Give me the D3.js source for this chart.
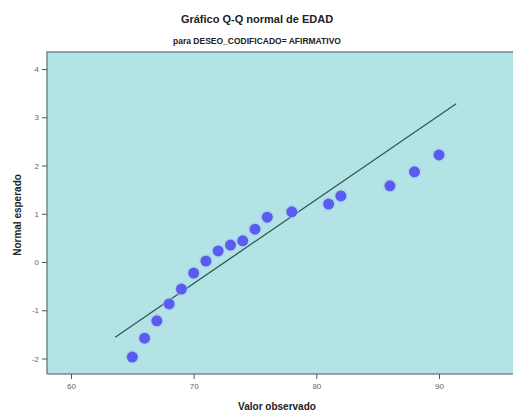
<!DOCTYPE html>
<html><head><meta charset="utf-8">
<script src="https://cdn.jsdelivr.net/npm/d3@7"></script>
<style>body{margin:0;background:#fff}svg{display:block}text{font-family:"Liberation Sans",Arial,sans-serif}</style>
</head><body>
<script>
const observed = [65,66,67,68,69,70,71,72,73,74,75,76,78,81,82,86,88,90];
const expected = [-1.97,-1.58,-1.22,-0.87,-0.56,-0.23,0.02,0.23,0.35,0.44,0.68,0.93,1.04,1.20,1.37,1.58,1.87,2.22];
const lineX = [63.6, 91.4];
const lineY = [-1.56, 3.28];
const xTicks = [60,70,80,90];
const yTicks = [-2,-1,0,1,2,3,4];

const W=513,H=413;
const svg=d3.select("body").append("svg").attr("width",W).attr("height",H);
const L=47,T=52,R=513,B=374;
const x=d3.scaleLinear().domain([60,90]).range([71,439]);
const y=d3.scaleLinear().domain([0,4]).range([262,69]);

svg.append("rect").attr("x",L).attr("y",T).attr("width",R-L).attr("height",B-T).attr("fill","#b3e3e5");
svg.append("path").attr("d",`M${L},${B}V${T}H${R}`).attr("fill","none").attr("stroke","#6f8a86").attr("stroke-width",1.5);
svg.append("line").attr("x1",L).attr("x2",R).attr("y1",B).attr("y2",B).attr("stroke","#555").attr("stroke-width",1.2);

const gx=svg.append("g").attr("transform",`translate(0,${B})`).call(d3.axisBottom(x).tickValues(xTicks).tickFormat(d3.format("d")).tickSize(5).tickPadding(4).tickSizeOuter(0));
gx.select(".domain").remove();
gx.selectAll("line").attr("stroke","#555");
gx.selectAll("text").attr("fill","#666").attr("font-size",8);
const gy=svg.append("g").attr("transform",`translate(${L},0)`).call(d3.axisLeft(y).tickValues(yTicks).tickFormat(d=>String(d)).tickSize(5).tickPadding(3).tickSizeOuter(0));
gy.select(".domain").remove();
gy.selectAll("line").attr("stroke","#555");
gy.selectAll("text").attr("fill","#666").attr("font-size",8);

svg.append("line").attr("x1",x(lineX[0])).attr("y1",y(lineY[0])).attr("x2",x(lineX[1])).attr("y2",y(lineY[1]))
  .attr("stroke","#2e5a52").attr("stroke-width",1.3);

const pts=observed.map((v,i)=>[v,expected[i]]);
svg.append("g").selectAll("circle.h").data(pts).join("circle").attr("cx",d=>x(d[0])).attr("cy",d=>y(d[1])).attr("r",7).attr("fill","#a8c8f0").attr("opacity",0.45);
svg.append("g").selectAll("circle.p").data(pts).join("circle").attr("cx",d=>x(d[0])).attr("cy",d=>y(d[1])).attr("r",5.5).attr("fill","#5a5cf0");

svg.append("text").attr("x",257).attr("y",23).attr("text-anchor","middle").attr("font-size",11).attr("font-weight","bold").attr("fill","#222").text("Gráfico Q-Q normal de EDAD");
svg.append("text").attr("x",257).attr("y",44).attr("text-anchor","middle").attr("font-size",8.5).attr("font-weight","bold").attr("fill","#222").text("para DESEO_CODIFICADO= AFIRMATIVO");
svg.append("text").attr("x",277).attr("y",410).attr("text-anchor","middle").attr("font-size",10).attr("font-weight","bold").attr("fill","#222").text("Valor observado");
svg.append("text").attr("transform","translate(21,215) rotate(-90)").attr("text-anchor","middle").attr("font-size",10).attr("font-weight","bold").attr("fill","#222").text("Normal esperado");
</script>
</body></html>
